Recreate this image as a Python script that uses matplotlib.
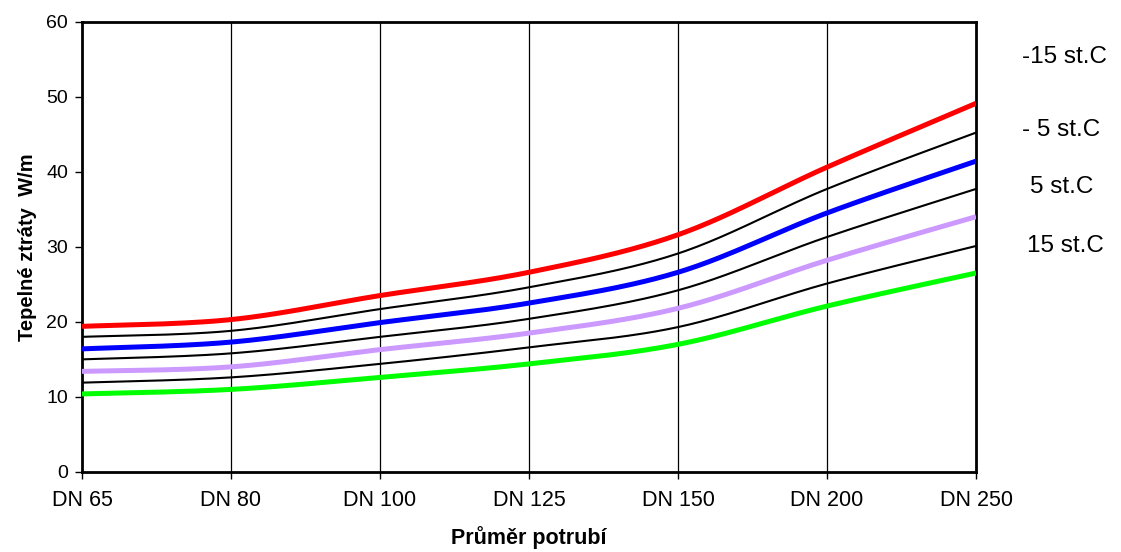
import numpy as np
import matplotlib
matplotlib.use("Agg")
import matplotlib.pyplot as plt

plt.rcParams['font.family'] = ['Liberation Sans', 'DejaVu Sans']

# Heat loss of pipes by nominal diameter, for several outdoor temperatures
categories = ["DN 65", "DN 80", "DN 100", "DN 125", "DN 150", "DN 200", "DN 250"]

loss_m15 = [19.4, 20.3, 23.5, 26.6, 31.6, 40.6, 49.1]
loss_m10 = [18.0, 18.8, 21.7, 24.6, 29.1, 37.7, 45.2]
loss_m5 = [16.4, 17.3, 19.9, 22.5, 26.6, 34.5, 41.4]
loss_0 = [15.0, 15.8, 18.0, 20.4, 24.2, 31.3, 37.7]
loss_p5 = [13.4, 14.0, 16.3, 18.5, 21.8, 28.2, 34.0]
loss_p10 = [11.9, 12.6, 14.4, 16.6, 19.3, 25.1, 30.1]
loss_p15 = [10.4, 11.0, 12.6, 14.4, 17.0, 22.1, 26.5]

series = [
    (loss_m15, "#ff0000", 3.6),
    (loss_m10, "black", 1.5),
    (loss_m5, "#0000ff", 3.6),
    (loss_0, "black", 1.5),
    (loss_p5, "#cc99ff", 3.6),
    (loss_p10, "black", 1.5),
    (loss_p15, "#00ff00", 3.6),
]

temp_labels = ["-15 st.C", "- 5 st.C", "5 st.C", "15 st.C"]
temp_label_y = [57, 130, 187, 246]   # pixel rows from top
temp_label_x = [1022, 1022, 1030, 1027]


def smooth(xs, ys, n=40):
    """Bezier smoothing through the points (Excel-style smoothed line)."""
    pts = np.column_stack([xs, ys]).astype(float)
    out = []
    for i in range(len(pts) - 1):
        p0 = pts[i - 1] if i > 0 else pts[i]
        p1 = pts[i]
        p2 = pts[i + 1]
        p3 = pts[i + 2] if i + 2 < len(pts) else pts[i + 1]
        c1 = p1 + (p2 - p0) / 6.0
        c2 = p2 - (p3 - p1) / 6.0
        t = np.linspace(0, 1, n)[:, None]
        seg = ((1 - t) ** 3) * p1 + 3 * ((1 - t) ** 2) * t * c1 \
            + 3 * (1 - t) * t ** 2 * c2 + t ** 3 * p2
        out.append(seg if i == 0 else seg[1:])
    seg = np.vstack(out)
    return seg[:, 0], seg[:, 1]


W, H = 1121, 552
fig = plt.figure(figsize=(W / 100, H / 100), dpi=100)
ax = fig.add_axes([82 / W, (H - 472) / H, (976 - 82) / W, (472 - 21.5) / H])

x = np.arange(len(categories))
for vals, color, lw in series:
    sx, sy = smooth(x, vals)
    ax.plot(sx, sy, color=color, linewidth=lw, solid_capstyle="butt", zorder=3)

for xi in x[1:-1]:
    ax.axvline(xi, color="black", linewidth=0.9, zorder=1)

ax.set_xlim(0, len(categories) - 1)
ax.set_ylim(0, 60)
ax.set_xticks(x)
ax.set_xticklabels(categories, fontsize=15.5)
ax.set_yticks(np.arange(0, 61, 10))
ax.tick_params(axis="both", direction="out", length=5, width=1, pad=5)
ax.tick_params(axis="y", labelsize=14)
ax.tick_params(axis="x", pad=8)
for sp in ax.spines.values():
    sp.set_linewidth(2)

ax.set_xlabel("Průměr potrubí", fontsize=15.5, fontweight="bold", labelpad=11)
ax.set_ylabel("Tepelné ztráty  W/m", fontsize=14.5, fontweight="bold", labelpad=7)

for lab, lx, ly in zip(temp_labels, temp_label_x, temp_label_y):
    fig.text(lx / W, 1 - ly / H, lab, fontsize=17.5, ha="left", va="center")

fig.savefig("out.png", dpi=100)
